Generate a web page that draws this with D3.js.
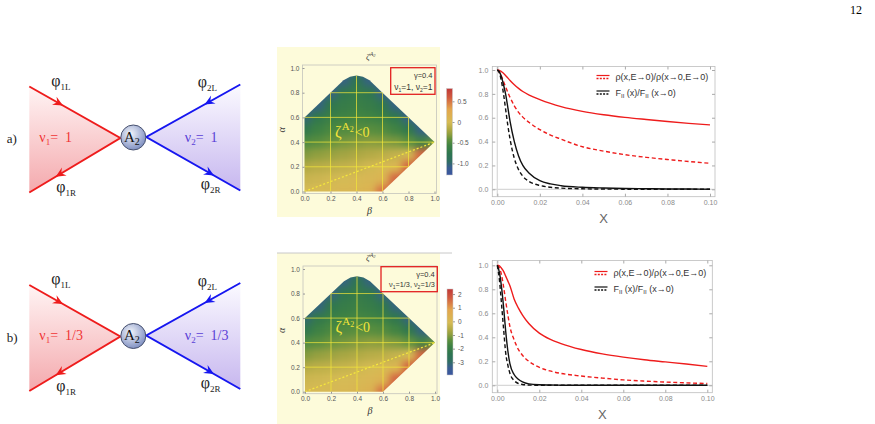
<!DOCTYPE html>
<html>
<head>
<meta charset="utf-8">
<script src="https://cdn.jsdelivr.net/npm/d3@7"></script>
<style>
body { margin: 0; background: #fff; }
svg { display: block; }
</style>
</head>
<body>
<div id="fig"></div>
<script>
// ---- data ----
const rowLabels = ["a)", "b)"]
const nuValues = [["1", "1"], ["1/3", "1/3"]]
const gammaValue = "0.4"

// zeta^{A2}(beta, alpha) sampled every 0.1 ; rows alpha = 1.0 ... 0.0, cols beta = 0.0 ... 1.0
const betaGrid = [0, 0.1, 0.2, 0.3, 0.4, 0.5, 0.6, 0.7, 0.8, 0.9, 1.0]
const alphaGrid = [1.0, 0.9, 0.8, 0.7, 0.6, 0.5, 0.4, 0.3, 0.2, 0.1, 0.0]
const zetaA = [
  [-1.15, -1.15, -1.15, -1.15, -1.15, -1.15, -1.15, -1.15, -1.15, -1.15, -1.15],
  [-1.15, -1.15, -1.15, -1.05, -0.8, -1.05, -1.15, -1.15, -1.15, -1.15, -1.15],
  [-1.15, -1.15, -1.05, -0.74, -0.68, -0.74, -1.05, -1.15, -1.15, -1.15, -1.15],
  [-1.15, -1.05, -0.74, -0.66, -0.62, -0.66, -0.74, -1.05, -1.15, -1.15, -1.15],
  [-1.0, -0.72, -0.63, -0.58, -0.55, -0.57, -0.62, -0.73, -1.05, -1.15, -1.15],
  [-0.72, -0.59, -0.52, -0.48, -0.45, -0.45, -0.48, -0.56, -0.72, -1.05, -1.15],
  [-0.5, -0.45, -0.4, -0.36, -0.33, -0.31, -0.32, -0.35, -0.42, -0.56, -0.4],
  [-0.33, -0.29, -0.26, -0.22, -0.19, -0.16, -0.13, -0.09, -0.03, 0.55, 0.6],
  [-0.17, -0.14, -0.12, -0.1, -0.07, -0.03, 0.02, 0.07, 0.55, 0.6, 0.6],
  [-0.07, -0.05, -0.03, -0.01, 0.02, 0.05, 0.1, 0.55, 0.6, 0.6, 0.6],
  [0.0, 0.01, 0.03, 0.05, 0.07, 0.11, 0.5, 0.6, 0.6, 0.6, 0.6]
]
const zetaB = [
  [-3.5, -3.5, -3.5, -3.5, -3.5, -3.5, -3.5, -3.5, -3.5, -3.5, -3.5],
  [-3.5, -3.5, -3.5, -3.2, -2.45, -3.2, -3.5, -3.5, -3.5, -3.5, -3.5],
  [-3.5, -3.5, -3.2, -2.3, -2.1, -2.3, -3.2, -3.5, -3.5, -3.5, -3.5],
  [-3.5, -3.2, -2.3, -2.05, -1.92, -2.05, -2.3, -3.2, -3.5, -3.5, -3.5],
  [-3.05, -2.2, -1.95, -1.8, -1.7, -1.76, -1.92, -2.25, -3.2, -3.5, -3.5],
  [-2.25, -1.82, -1.62, -1.5, -1.42, -1.42, -1.5, -1.75, -2.25, -3.2, -3.5],
  [-1.55, -1.4, -1.25, -1.15, -1.05, -0.98, -1.0, -1.1, -1.3, -1.75, -1.25],
  [-1.05, -0.9, -0.8, -0.7, -0.6, -0.5, -0.45, -0.32, -0.12, 1.6, 1.75],
  [-0.55, -0.45, -0.4, -0.33, -0.23, -0.13, 0.0, 0.2, 1.6, 1.75, 1.75],
  [-0.23, -0.18, -0.13, -0.07, 0.0, 0.1, 0.28, 1.6, 1.75, 1.75, 1.75],
  [-0.05, -0.03, 0.02, 0.07, 0.15, 0.3, 1.45, 1.75, 1.75, 1.75, 1.75]
]
// edge of the region where zeta is drawn, (beta, alpha)
const regionBoundary = [[0, 0], [0.6, 0], [1, 0.4], [0.6, 0.8], [0.5, 0.9], [0.45, 0.93], [0.4, 0.94],
  [0.35, 0.93], [0.3, 0.9], [0, 0.6]]
const dottedLine = [[0, 0], [1, 0.4]]
const heatTicks = [0, 0.2, 0.4, 0.6, 0.8, 1.0]
const gridTicks = [0.2, 0.4, 0.6, 0.8]
const cbarRangeA = [-1.28, 0.81]
const cbarTicksA = [0.5, 0, -0.5, -1.0]
const cbarRangeB = [-3.93, 2.37]
const cbarTicksB = [2, 1, 0, -1, -2, -3]
const colorStops = [
  [0, "#3a55a0"], [0.08, "#3a5d93"], [0.16, "#2f6e62"], [0.25, "#2e7650"], [0.34, "#3f8243"],
  [0.41, "#5e903e"], [0.47, "#8e9e3f"], [0.53, "#b2aa45"], [0.61, "#d6bb55"], [0.76, "#e3a64e"],
  [0.9, "#d05a40"], [1, "#c03838"]
]

// curves
const xValues = [0, 0.001, 0.002, 0.003, 0.004, 0.005, 0.006, 0.008, 0.01, 0.012, 0.015, 0.02,
  0.025, 0.03, 0.04, 0.05, 0.06, 0.07, 0.08, 0.09, 0.1]
const rhoSolidA = [1.0, 0.997, 0.985, 0.97, 0.952, 0.932, 0.912, 0.876, 0.846, 0.82, 0.79, 0.752,
  0.72, 0.693, 0.653, 0.625, 0.603, 0.585, 0.568, 0.553, 0.54]
const rhoDashA = [1.0, 0.98, 0.945, 0.9, 0.855, 0.81, 0.77, 0.7, 0.645, 0.605, 0.56, 0.5,
  0.455, 0.42, 0.357, 0.32, 0.29, 0.268, 0.25, 0.233, 0.218]
const fSolidA = [1.0, 0.985, 0.94, 0.87, 0.79, 0.68, 0.57, 0.4, 0.28, 0.2, 0.135, 0.072,
  0.045, 0.03, 0.017, 0.011, 0.007, 0.005, 0.003, 0.002, 0.001]
const fDashA = [1.0, 0.975, 0.9, 0.79, 0.66, 0.53, 0.42, 0.26, 0.165, 0.11, 0.065, 0.032,
  0.017, 0.01, 0.004, 0.002, 0.001, 0.001, 0, 0, 0]
const rhoSolidB = [1.0, 0.995, 0.975, 0.95, 0.91, 0.87, 0.83, 0.72, 0.645, 0.585, 0.515, 0.435,
  0.385, 0.35, 0.298, 0.262, 0.235, 0.213, 0.195, 0.177, 0.158]
const rhoDashB = [1.0, 0.98, 0.92, 0.82, 0.7, 0.59, 0.49, 0.38, 0.3, 0.25, 0.2, 0.15,
  0.12, 0.1, 0.077, 0.06, 0.045, 0.035, 0.027, 0.02, 0.015]
const fSolidB = [1.0, 0.94, 0.82, 0.65, 0.45, 0.29, 0.18, 0.09, 0.05, 0.028, 0.012, 0.004,
  0.002, 0.001, 0, 0, 0, 0, 0, 0, 0]
const fDashB = [1.0, 0.88, 0.68, 0.47, 0.27, 0.17, 0.1, 0.04, 0.015, 0.007, 0.002, 0,
  0, 0, 0, 0, 0, 0, 0, 0, 0]
const xTicks = [0, 0.02, 0.04, 0.06, 0.08, 0.1]
const yTicks = [0, 0.2, 0.4, 0.6, 0.8, 1.0]

const RED = "#ee1c1c", BLUE = "#1616f0", SERIF = "'Liberation Serif', 'DejaVu Serif', serif",
  SANS = "'Liberation Sans', Arial, sans-serif"

const svg = d3.select("#fig").append("svg").attr("width", 875).attr("height", 424)
const defs = svg.append("defs")

// gradients for the schematic
let gr = defs.append("linearGradient").attr("id", "gradRed").attr("x1", 0).attr("y1", 0).attr("x2", 0).attr("y2", 1)
gr.append("stop").attr("offset", 0).attr("stop-color", "#fff4f4")
gr.append("stop").attr("offset", 1).attr("stop-color", "#f4a9ad")
gr = defs.append("linearGradient").attr("id", "gradBlue").attr("x1", 0).attr("y1", 0).attr("x2", 0).attr("y2", 1)
gr.append("stop").attr("offset", 0).attr("stop-color", "#fbfaff")
gr.append("stop").attr("offset", 1).attr("stop-color", "#c7b7ef")
gr = defs.append("radialGradient").attr("id", "gradNode").attr("cx", "40%").attr("cy", "35%").attr("r", "70%")
gr.append("stop").attr("offset", 0).attr("stop-color", "#f2f5fb")
gr.append("stop").attr("offset", 1).attr("stop-color", "#7a8bbf")
gr = defs.append("linearGradient").attr("id", "gradBar").attr("x1", 0).attr("y1", 1).attr("x2", 0).attr("y2", 0)
colorStops.forEach(s => gr.append("stop").attr("offset", s[0]).attr("stop-color", s[1]))

// soft filter for the density cells
const flt = defs.append("filter").attr("id", "smooth").attr("color-interpolation-filters", "sRGB")
  .attr("x", "-2%").attr("y", "-2%").attr("width", "104%").attr("height", "104%")
flt.append("feGaussianBlur").attr("stdDeviation", 3.6)
flt.append("feComponentTransfer").append("feFuncA").attr("type", "table").attr("tableValues", "1 1")

svg.append("text").attr("x", 862).attr("y", 14).attr("text-anchor", "end")
  .style("font", `12px ${SERIF}`).text("12")

function sub(t, main, s, size) {
  t.append("tspan").text(main)
  t.append("tspan").attr("dy", 4).style("font-size", size + "px").text(s)
}

function arrowHead(g, p0, p1, t, color) {
  const px = p0[0] + t * (p1[0] - p0[0]), py = p0[1] + t * (p1[1] - p0[1])
  const ang = Math.atan2(p1[1] - p0[1], p1[0] - p0[0]) * 180 / Math.PI
  g.append("path").attr("d", "M0,0 L-10,-4.6 L-6.5,0 L-10,4.6 Z").attr("fill", color)
    .attr("transform", `translate(${px},${py}) rotate(${ang})`)
}

function drawDiagram(cx, cy, k) {
  const g = svg.append("g").attr("transform", `translate(${cx},${cy})`)
  const lUp = [-104, -51], lDn = [-104, 55], lJ = [-13, 0.5]
  const rUp = [107, -53], rDn = [107, 53], rJ = [13, -0.5]
  const line = d3.line()
  g.append("path").attr("d", line([lUp, lJ, lDn]) + "Z").attr("fill", "url(#gradRed)")
  g.append("path").attr("d", line([rUp, rJ, rDn]) + "Z").attr("fill", "url(#gradBlue)")
  g.append("path").attr("d", line([lUp, lJ, lDn])).attr("fill", "none").attr("stroke", RED).attr("stroke-width", 2)
  g.append("path").attr("d", line([rUp, rJ, rDn])).attr("fill", "none").attr("stroke", BLUE).attr("stroke-width", 2)
  arrowHead(g, lUp, lJ, 0.37, RED)
  arrowHead(g, lJ, lDn, 0.71, RED)
  arrowHead(g, rUp, rJ, 0.38, BLUE)
  arrowHead(g, rJ, rDn, 0.72, BLUE)
  g.append("circle").attr("r", 12.5).attr("fill", "url(#gradNode)").attr("stroke", "#46506e").attr("stroke-width", 1)
  let t = g.append("text").attr("x", -1.5).attr("y", 4).attr("text-anchor", "middle").style("font", `15px ${SERIF}`).attr("fill", "#111")
  t.append("tspan").text("A")
  t.append("tspan").attr("dy", 3).style("font-size", "10px").text("2")
  const phi = [["1L", -82, -52], ["1R", -77, 54.5], ["2L", 64.5, -50.5], ["2R", 67.5, 51.5]]
  phi.forEach(p => {
    const tt = g.append("text").attr("x", p[1]).attr("y", p[2]).style("font", `16px ${SERIF}`).attr("fill", "#222")
    sub(tt, "φ", p[0], 9)
  })
  g.append("text").attr("x", -126.5).attr("y", 5.5).style("font", `13px ${SERIF}`).attr("fill", "#222").text(rowLabels[k])
  const nu = [[-94, "1", "#f03535"], [51.5, "2", "#5a40d6"]]
  nu.forEach((n, i) => {
    const tt = g.append("text").attr("x", n[0]).attr("y", 4).style("font", `14px ${SERIF}`)
      .style("white-space", "pre").attr("fill", n[2])
    tt.append("tspan").text("ν")
    tt.append("tspan").attr("dy", 3).style("font-size", "9px").text(n[1])
    tt.append("tspan").attr("dy", -3).text("=  " + nuValues[k][i])
  })
}

function drawHeatmap(o, grid, cRange, cTicks, k) {
  const x = d3.scaleLinear().domain([0, 1]).range([o.x0, o.x1])
  const y = d3.scaleLinear().domain([0, 1]).range([o.y0, o.y1])
  const color = d3.scaleLinear().domain(colorStops.map(s => cRange[0] + s[0] * (cRange[1] - cRange[0])))
    .range(colorStops.map(s => s[1])).clamp(true)
  const g = svg.append("g")
  g.append("rect").attr("x", 277).attr("y", o.bgTop).attr("width", 163).attr("height", o.bgBot - o.bgTop).attr("fill", "#fdfbda")
  if (o.topRule) g.append("line").attr("x1", 277).attr("x2", 452).attr("y1", o.bgTop).attr("y2", o.bgTop).attr("stroke", "#c8c8c8")

  const clipId = "region" + k
  const pts = regionBoundary.map(p => [x(p[0]), y(p[1])])
  defs.append("clipPath").attr("id", clipId).append("path").attr("d", d3.line()(pts) + "Z")

  const cells = []
  alphaGrid.forEach((a, i) => betaGrid.forEach((b, j) => cells.push({ b: b, a: a, v: grid[i][j] })))
  const cw = x(0.1) - x(0), ch = y(0) - y(0.1)
  const clipG = g.append("g").attr("clip-path", `url(#${clipId})`)
  clipG.append("g").attr("filter", "url(#smooth)")
    .selectAll("rect").data(cells).join("rect")
    .attr("x", d => x(d.b) - cw / 2).attr("y", d => y(d.a) - ch / 2)
    .attr("width", cw + 0.6).attr("height", ch + 0.6)
    .attr("fill", d => color(d.v))
  // yellow mesh inside the region
  gridTicks.forEach(v => {
    clipG.append("line").attr("x1", x(v)).attr("x2", x(v)).attr("y1", y(0)).attr("y2", y(1))
      .attr("stroke", "#f3e63a").attr("stroke-width", 0.8).attr("stroke-opacity", 0.9)
    clipG.append("line").attr("x1", x(0)).attr("x2", x(1)).attr("y1", y(v)).attr("y2", y(v))
      .attr("stroke", "#f3e63a").attr("stroke-width", 0.8).attr("stroke-opacity", 0.9)
  })
  g.append("path").attr("d", d3.line().x(d => x(d[0])).y(d => y(d[1]))(dottedLine))
    .attr("stroke", "#f6e83c").attr("stroke-width", 1.2).attr("stroke-dasharray", "2,2").attr("fill", "none")

  // frame + ticks
  g.append("rect").attr("x", o.x0 - 2).attr("y", o.y1 - 3).attr("width", o.x1 - o.x0 + 4).attr("height", o.y0 - o.y1 + 5)
    .attr("fill", "none").attr("stroke", "#c4c4bc").attr("stroke-width", 0.8)
  const ax = g.append("g").attr("transform", `translate(0,${o.y0 + 2})`)
    .call(d3.axisBottom(x).tickValues(heatTicks).tickFormat(d3.format(".1f")).tickSize(-2).tickPadding(3))
  const ay = g.append("g").attr("transform", `translate(${o.x0 - 2},0)`)
    .call(d3.axisLeft(y).tickValues(heatTicks).tickFormat(d3.format(".1f")).tickSize(-2).tickPadding(3))
  ;[ax, ay].forEach(a => {
    a.select(".domain").remove()
    a.selectAll("line").attr("stroke", "#999")
    a.selectAll("text").attr("fill", "#555").style("font", `6.5px ${SANS}`)
  })
  g.append("text").attr("x", (o.x0 + o.x1) / 2).attr("y", o.y0 + 22).attr("text-anchor", "middle")
    .style("font", `italic 10px ${SERIF}`).attr("fill", "#333").text("β")
  g.append("text").attr("transform", `translate(${o.x0 - 20},${(o.y0 + o.y1) / 2}) rotate(-90)`).attr("text-anchor", "middle")
    .style("font", `italic 10px ${SERIF}`).attr("fill", "#333").text("α")
  let t = g.append("text").attr("x", 366).attr("y", o.y1 - 8).style("font", `italic 9px ${SERIF}`).attr("fill", "#444")
  t.append("tspan").text("ζ")
  t.append("tspan").attr("dy", -4).style("font-size", "6px").text("A")
  t.append("tspan").attr("dy", 1).style("font-size", "4.5px").text("2")

  // label inside region
  t = g.append("text").attr("x", x(0.235)).attr("y", o.labelY).style("font", `16px ${SERIF}`).attr("fill", "#f4e43a")
  t.append("tspan").text("ζ")
  t.append("tspan").attr("dy", -7).style("font-size", "11px").text("A")
  t.append("tspan").attr("dy", 2).style("font-size", "8px").text("2")
  t.append("tspan").attr("dy", 5).attr("dx", 1).style("font-size", "14px").text("<0")

  // parameter box
  g.append("rect").attr("x", o.box[0]).attr("y", o.box[1]).attr("width", o.box[2]).attr("height", o.box[3])
    .attr("fill", "none").attr("stroke", "#e22020").attr("stroke-width", 1.3)
  const bx = o.box[0] + o.box[2] - 2.5
  g.append("text").attr("x", bx).attr("y", o.box[1] + 10).attr("text-anchor", "end")
    .style("font", `7.5px ${SANS}`).attr("fill", "#333").text("γ=" + gammaValue)
  t = g.append("text").attr("x", bx).attr("y", o.box[1] + o.box[3] - 4.5).attr("text-anchor", "end")
    .style("font", `${o.boxFont}px ${SANS}`).attr("fill", "#333")
  t.append("tspan").text("ν")
  t.append("tspan").attr("dy", 2).style("font-size", "5px").text("1")
  t.append("tspan").attr("dy", -2).text("=" + nuValues[k][0] + ", ν")
  t.append("tspan").attr("dy", 2).style("font-size", "5px").text("2")
  t.append("tspan").attr("dy", -2).text("=" + nuValues[k][1])

  // colour bar
  const cy = d3.scaleLinear().domain(cRange).range([o.cb[3], o.cb[1]])
  g.append("rect").attr("x", o.cb[0]).attr("y", o.cb[1]).attr("width", 6).attr("height", o.cb[3] - o.cb[1])
    .attr("fill", "url(#gradBar)").attr("stroke", "#ccc").attr("stroke-width", 0.5)
  const ac = g.append("g").attr("transform", `translate(${o.cb[0] + 6},0)`)
    .call(d3.axisRight(cy).tickValues(cTicks).tickSize(2).tickPadding(3))
  ac.select(".domain").remove()
  ac.selectAll("line").attr("stroke", "#999")
  ac.selectAll("text").attr("fill", "#555").style("font", `6.5px ${SANS}`)
    .text(d => (k === 0 && d === -1) ? "-1.0" : String(d))
}

function drawLineChart(o, rhoS, rhoD, fS, fD) {
  const x = d3.scaleLinear().domain([0, 0.1]).range([o.x0, o.x1])
  const y = d3.scaleLinear().domain([0, 1]).range([o.y0, o.y1])
  const g = svg.append("g")
  g.append("rect").attr("x", o.f[0]).attr("y", o.f[1]).attr("width", o.f[2] - o.f[0]).attr("height", o.f[3] - o.f[1])
    .attr("fill", "none").attr("stroke", "#bdbdbd").attr("stroke-width", 0.8)
  g.append("line").attr("x1", o.f[0]).attr("x2", o.f[2]).attr("y1", y(0)).attr("y2", y(0)).attr("stroke", "#d8d8d8").attr("stroke-width", 1.2)
  g.append("line").attr("x1", x(0)).attr("x2", x(0)).attr("y1", o.f[1]).attr("y2", o.f[3]).attr("stroke", "#d8d8d8").attr("stroke-width", 1.2)
  const ax = g.append("g").attr("transform", `translate(0,${o.f[3]})`)
    .call(d3.axisBottom(x).tickValues(xTicks).tickFormat(d3.format(".2f")).tickSize(-3).tickPadding(3))
  const ay = g.append("g").attr("transform", `translate(${o.f[0]},0)`)
    .call(d3.axisLeft(y).tickValues(yTicks).tickFormat(d3.format(".1f")).tickSize(-3).tickPadding(4))
  const at = g.append("g").attr("transform", `translate(0,${o.f[1]})`)
    .call(d3.axisTop(x).tickValues(xTicks).tickFormat("").tickSize(-3))
  const ar = g.append("g").attr("transform", `translate(${o.f[2]},0)`)
    .call(d3.axisRight(y).tickValues(yTicks).tickFormat("").tickSize(-3))
  ;[ax, ay, at, ar].forEach(a => {
    a.select(".domain").remove()
    a.selectAll("line").attr("stroke", "#aaa")
    a.selectAll("text").attr("fill", "#8a8a8a").style("font", `7px ${SANS}`)
  })
  const line = d3.line().x((d, i) => x(xValues[i])).y(d => y(d)).curve(d3.curveMonotoneX)
  const series = [[rhoS, RED, null], [rhoD, RED, "4,2.6"], [fS, "#111", null], [fD, "#111", "4,2.6"]]
  series.forEach(s => {
    g.append("path").attr("d", line(s[0])).attr("fill", "none").attr("stroke", s[1])
      .attr("stroke-width", 1.4).attr("stroke-dasharray", s[2])
  })
  // legend
  const leg = [[RED, "ρ(x,E→0)/ρ(x→0,E→0)"], ["#111", null]]
  leg.forEach((l, i) => {
    const ly = o.leg[1] + i * 15.5
    g.append("line").attr("x1", o.leg[0]).attr("x2", o.leg[0] + 13).attr("y1", ly - 1.5).attr("y2", ly - 1.5)
      .attr("stroke", l[0]).attr("stroke-width", 1.2)
    g.append("line").attr("x1", o.leg[0]).attr("x2", o.leg[0] + 13).attr("y1", ly + 1.5).attr("y2", ly + 1.5)
      .attr("stroke", l[0]).attr("stroke-width", 1.6).attr("stroke-dasharray", "2,1.3")
    const t = g.append("text").attr("x", o.leg[0] + 19).attr("y", ly + 3).style("font", `9px ${SANS}`).attr("fill", "#333")
    if (l[1]) t.text(l[1])
    else {
      t.append("tspan").text("F")
      t.append("tspan").attr("dy", 2).style("font-size", "6px").text("II")
      t.append("tspan").attr("dy", -2).text(" (x)/F")
      t.append("tspan").attr("dy", 2).style("font-size", "6px").text("II")
      t.append("tspan").attr("dy", -2).text(" (x→0)")
    }
  })
  g.append("text").attr("x", (o.x0 + o.x1) / 2).attr("y", o.f[3] + 26).attr("text-anchor", "middle")
    .style("font", `13px ${SANS}`).attr("fill", "#666").text("X")
}

drawDiagram(133.3, 137.5, 0)
drawDiagram(133.3, 336, 1)

drawHeatmap({ x0: 304.5, x1: 434.5, y0: 191.5, y1: 68, bgTop: 47, bgBot: 217, topRule: false, boxFont: 8.5,
  labelY: 137, box: [390.7, 67.7, 44.3, 26.6], cb: [446.5, 88.5, 0, 175] }, zetaA, cbarRangeA, cbarTicksA, 0)
drawHeatmap({ x0: 305, x1: 435, y0: 391.7, y1: 269, bgTop: 253, bgBot: 424, topRule: true, boxFont: 7.3,
  labelY: 332, box: [381, 266.7, 56.3, 25], cb: [447, 289, 0, 375] }, zetaB, cbarRangeB, cbarTicksB, 1)

drawLineChart({ x0: 497.3, x1: 710, y0: 189.3, y1: 70, f: [492.3, 66.5, 715, 196.7], leg: [596.5, 77] },
  rhoSolidA, rhoDashA, fSolidA, fDashA)
drawLineChart({ x0: 497.3, x1: 707.3, y0: 385.3, y1: 265.3, f: [492.3, 260.5, 712.3, 392.7], leg: [594.5, 273] },
  rhoSolidB, rhoDashB, fSolidB, fDashB)
</script>
</body>
</html>
